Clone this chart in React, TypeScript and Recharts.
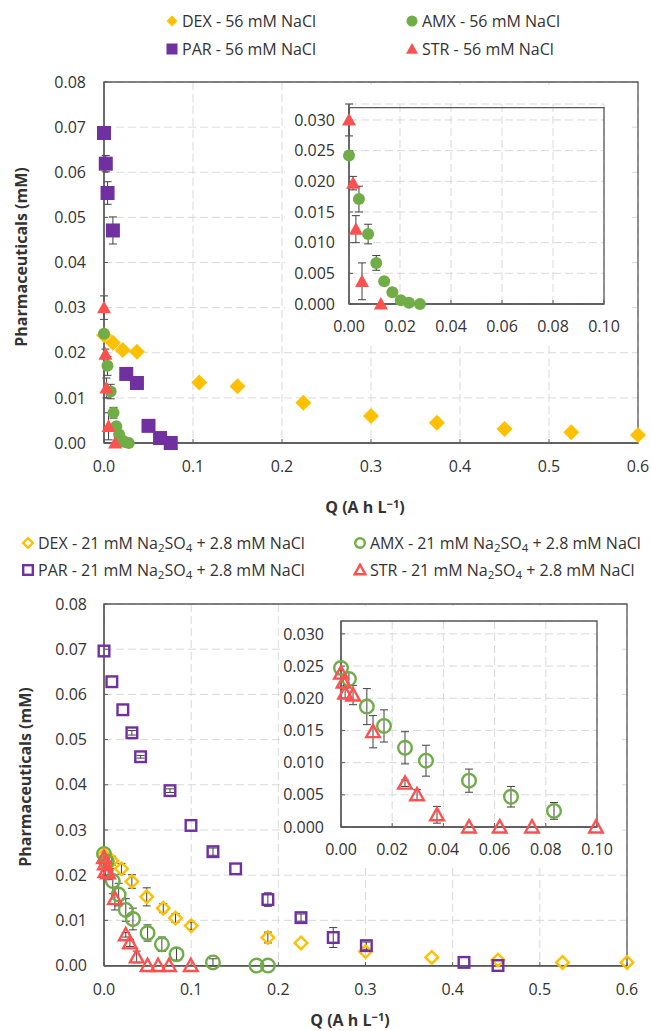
import React from 'react';
import { ScatterChart, Scatter, XAxis, YAxis, CartesianGrid, ErrorBar, ReferenceArea } from 'recharts';

const FONT = '"Open Sans", sans-serif';
const TEXT = '#333333';
const AXIS = '#595959';
const GRID = '#d9d9d9';

const ORANGE = '#FFC000';
const GREEN = '#70AD47';
const PURPLE = '#7030A0';
const RED = '#FF5050';

// [Q (A h L-1), concentration (mM), error]
const DEX_NACL: [number, number, number][] = [
  [0, 0.0239, 0], [0.01, 0.0222, 0], [0.021, 0.0206, 0], [0.037, 0.0202, 0],
  [0.107, 0.0134, 0], [0.15, 0.0126, 0], [0.224, 0.0089, 0], [0.3, 0.006, 0],
  [0.374, 0.0045, 0], [0.45, 0.0031, 0], [0.525, 0.0024, 0], [0.6, 0.0018, 0],
];
const AMX_NACL: [number, number, number][] = [
  [0, 0.0242, 0.0003], [0.0039, 0.0171, 0.0021], [0.0075, 0.0114, 0.0016],
  [0.0107, 0.0067, 0.0012], [0.0138, 0.0037, 0.0005], [0.017, 0.0019, 0.0003],
  [0.0203, 0.0006, 0], [0.0235, 0.0002, 0], [0.0278, 0, 0],
];
const PAR_NACL: [number, number, number][] = [
  [0, 0.0687, 0], [0.002, 0.0619, 0.0018], [0.004, 0.0554, 0.0025], [0.01, 0.0471, 0.003],
  [0.025, 0.0153, 0.0012], [0.037, 0.0133, 0], [0.05, 0.0038, 0], [0.063, 0.0011, 0],
  [0.075, 0, 0],
];
const STR_NACL: [number, number, number][] = [
  [0, 0.03, 0.0026], [0.0016, 0.0197, 0.0011], [0.0027, 0.0122, 0.0022],
  [0.0051, 0.0037, 0.003], [0.0125, 0, 0],
];

const DEX_SO4: [number, number, number][] = [
  [0, 0.0245, 0], [0.009, 0.0232, 0.001], [0.02, 0.0214, 0.0012], [0.032, 0.0186, 0.0015],
  [0.049, 0.0152, 0.002], [0.068, 0.0127, 0.001], [0.082, 0.0105, 0.001], [0.1, 0.0088, 0.0008],
  [0.188, 0.0062, 0.0012], [0.226, 0.005, 0], [0.3, 0.0031, 0], [0.376, 0.0018, 0],
  [0.452, 0.0012, 0], [0.526, 0.0007, 0], [0.6, 0.0007, 0],
];
const AMX_SO4: [number, number, number][] = [
  [0, 0.0247, 0], [0.0031, 0.023, 0.001], [0.0101, 0.0187, 0.0028], [0.0168, 0.0157, 0.0025],
  [0.025, 0.0123, 0.0025], [0.0332, 0.0103, 0.0024], [0.05, 0.0072, 0.0018],
  [0.0664, 0.0047, 0.0016], [0.0832, 0.0025, 0.0013], [0.125, 0.0007, 0.0008],
  [0.175, 0, 0], [0.188, 0, 0],
];
const PAR_SO4: [number, number, number][] = [
  [0, 0.0696, 0], [0.009, 0.0628, 0], [0.0216, 0.0566, 0], [0.032, 0.0515, 0.0005],
  [0.042, 0.0462, 0.0003], [0.0757, 0.0387, 0.0004], [0.0998, 0.031, 0], [0.125, 0.0252, 0.0008],
  [0.151, 0.0214, 0], [0.188, 0.0146, 0.0015], [0.226, 0.0106, 0.0008], [0.263, 0.0062, 0.0022],
  [0.301, 0.0044, 0.0008], [0.413, 0.0007, 0], [0.452, 0, 0],
];
const STR_SO4: [number, number, number][] = [
  [0, 0.0239, 0], [0.001, 0.0225, 0.0006], [0.0016, 0.0208, 0.0008], [0.0047, 0.0205, 0.0015],
  [0.0125, 0.0148, 0.0025], [0.025, 0.0068, 0.0005], [0.0297, 0.005, 0.0008],
  [0.0375, 0.0019, 0.0013], [0.05, 0, 0], [0.062, 0, 0], [0.0746, 0, 0], [0.0996, 0, 0],
];

const MAIN_X_TICKS = [0, 0.1, 0.2, 0.3, 0.4, 0.5, 0.6];
const MAIN_Y_TICKS = [0, 0.01, 0.02, 0.03, 0.04, 0.05, 0.06, 0.07, 0.08];
const INSET_X_TICKS = [0, 0.02, 0.04, 0.06, 0.08, 0.1];
const INSET_Y_TICKS = [0, 0.005, 0.01, 0.015, 0.02, 0.025, 0.03];
const INSET_X_MAX = 0.1;

const rows = (arr: [number, number, number][]) => arr.map(([q, c, err]) => ({ q, c, err }));

type Kind = 'diamond' | 'square' | 'circle' | 'triangle';

function drawMarker(kind: Kind, color: string, size: number, open: boolean, cx: number, cy: number) {
  const sw = open ? 2.4 : 0;
  const h = size / 2 - sw / 2;
  const common = { fill: open ? 'none' : color, stroke: open ? color : 'none', strokeWidth: sw };
  if (kind === 'diamond')
    return <polygon points={`${cx},${cy - h} ${cx + h},${cy} ${cx},${cy + h} ${cx - h},${cy}`} {...common} />;
  if (kind === 'square') return <rect x={cx - h} y={cy - h} width={2 * h} height={2 * h} {...common} />;
  if (kind === 'circle') return <circle cx={cx} cy={cy} r={h} {...common} />;
  return <polygon points={`${cx},${cy - h} ${cx + h},${cy + h * 0.8} ${cx - h},${cy + h * 0.8}`} {...common} />;
}

const shapeFn = (kind: Kind, color: string, size: number, open: boolean) => (p: any) =>
  drawMarker(kind, color, size, open, p.cx, p.cy);

interface SeriesDef {
  name: string;
  data: { q: number; c: number; err: number }[];
  kind: Kind;
  color: string;
  size: number;
  open: boolean;
}

interface PanelProps {
  left: number;
  top: number;
  width: number;
  height: number;
  margin: { top: number; right: number; bottom: number; left: number };
  yAxisWidth: number;
  xDomain: [number, number];
  yDomain: [number, number];
  xTicks: number[];
  yTicks: number[];
  xDigits: number;
  yDigits: number;
  xTickMargin: number;
  yTickMargin: number;
  series: SeriesDef[];
  background?: string;
}

function Panel(p: PanelProps) {
  const tick = { fill: TEXT, fontSize: 16, fontFamily: FONT };
  return (
    <div style={{ position: 'absolute', left: p.left, top: p.top, background: p.background }}>
      <ScatterChart width={p.width} height={p.height} margin={p.margin}>
        <CartesianGrid stroke={GRID} strokeDasharray="8 4" />
        <XAxis
          type="number"
          dataKey="q"
          domain={p.xDomain}
          ticks={p.xTicks}
          tickFormatter={(v: number) => v.toFixed(p.xDigits)}
          height={30}
          tick={tick}
          tickSize={-4}
          tickMargin={p.xTickMargin}
          tickLine={{ stroke: AXIS }}
          axisLine={{ stroke: AXIS, strokeWidth: 1.3 }}
          interval={0}
        />
        <YAxis
          type="number"
          dataKey="c"
          domain={p.yDomain}
          ticks={p.yTicks}
          tickFormatter={(v: number) => v.toFixed(p.yDigits)}
          width={p.yAxisWidth}
          tick={tick}
          tickSize={-4}
          tickMargin={p.yTickMargin}
          tickLine={{ stroke: AXIS }}
          axisLine={{ stroke: AXIS, strokeWidth: 1.3 }}
          interval={0}
        />
        <ReferenceArea
          x1={p.xDomain[0]}
          x2={p.xDomain[1]}
          y1={p.yDomain[0]}
          y2={p.yDomain[1]}
          fill="none"
          fillOpacity={0}
          stroke={AXIS}
          strokeWidth={1.3}
        />
        {p.series.map((s) => (
          <Scatter
            key={s.name}
            name={s.name}
            data={s.data}
            shape={shapeFn(s.kind, s.color, s.size, s.open)}
            isAnimationActive={false}
          >
            <ErrorBar dataKey="err" direction="y" width={4} stroke="#404040" strokeWidth={1} />
          </Scatter>
        ))}
      </ScatterChart>
    </div>
  );
}

function LegendItem({ x, y, kind, color, open, size, children }: any) {
  return (
    <div
      style={{
        position: 'absolute',
        left: x,
        top: y - 12,
        height: 24,
        display: 'flex',
        alignItems: 'center',
        whiteSpace: 'nowrap',
        fontSize: 16,
        color: TEXT,
      }}
    >
      <svg width={14} height={14} style={{ marginRight: 3 }}>
        {drawMarker(kind, color, size, open, 7, 7)}
      </svg>
      <span>{children}</span>
    </div>
  );
}

const subStyle: React.CSSProperties = { fontSize: '0.72em', verticalAlign: '-0.25em', lineHeight: 0 };
const So4Label = ({ drug }: { drug: string }) => (
  <>
    {drug} - 21 mM Na<sub style={subStyle}>2</sub>SO<sub style={subStyle}>4</sub> + 2.8 mM NaCl
  </>
);

const QTitle = () => (
  <>
    Q (A h L<sup style={{ fontSize: '0.7em', verticalAlign: '0.45em', lineHeight: 0 }}>−1</sup>)
  </>
);

const insetOnly = (list: SeriesDef[]) =>
  list
    .filter((s) => s.kind === 'circle' || s.kind === 'triangle')
    .map((s) => ({ ...s, data: s.data.filter((d) => d.q <= INSET_X_MAX) }));

export default function App() {
  const nacl: SeriesDef[] = [
    { name: 'DEX - 56 mM NaCl', data: rows(DEX_NACL), kind: 'diamond', color: ORANGE, size: 16, open: false },
    { name: 'AMX - 56 mM NaCl', data: rows(AMX_NACL), kind: 'circle', color: GREEN, size: 12, open: false },
    { name: 'PAR - 56 mM NaCl', data: rows(PAR_NACL), kind: 'square', color: PURPLE, size: 14, open: false },
    { name: 'STR - 56 mM NaCl', data: rows(STR_NACL), kind: 'triangle', color: RED, size: 14, open: false },
  ];
  const so4: SeriesDef[] = [
    { name: 'DEX - SO4', data: rows(DEX_SO4), kind: 'diamond', color: ORANGE, size: 15, open: true },
    { name: 'AMX - SO4', data: rows(AMX_SO4), kind: 'circle', color: GREEN, size: 16, open: true },
    { name: 'PAR - SO4', data: rows(PAR_SO4), kind: 'square', color: PURPLE, size: 13, open: true },
    { name: 'STR - SO4', data: rows(STR_SO4), kind: 'triangle', color: RED, size: 16, open: true },
  ];

  const titleStyle: React.CSSProperties = {
    position: 'absolute',
    fontWeight: 700,
    fontSize: 16,
    color: TEXT,
    whiteSpace: 'nowrap',
  };

  return (
    <div
      style={{
        position: 'absolute',
        left: 0,
        top: 0,
        width: 651,
        height: 1031,
        background: '#fff',
        fontFamily: FONT,
        overflow: 'hidden',
      }}
    >
      {/* top panel: 56 mM NaCl */}
      <LegendItem x={165} y={21} kind="diamond" color={ORANGE} size={11} open={false}>DEX - 56 mM NaCl</LegendItem>
      <LegendItem x={405} y={21} kind="circle" color={GREEN} size={11} open={false}>AMX - 56 mM NaCl</LegendItem>
      <LegendItem x={165} y={49} kind="square" color={PURPLE} size={11} open={false}>PAR - 56 mM NaCl</LegendItem>
      <LegendItem x={405} y={49} kind="triangle" color={RED} size={12} open={false}>STR - 56 mM NaCl</LegendItem>

      <Panel
        left={0}
        top={0}
        width={651}
        height={520}
        margin={{ top: 82, right: 13, bottom: 47, left: 0 }}
        yAxisWidth={104}
        xDomain={[0, 0.6]}
        yDomain={[0, 0.08]}
        xTicks={MAIN_X_TICKS}
        yTicks={MAIN_Y_TICKS}
        xDigits={1}
        yDigits={2}
        xTickMargin={22}
        yTickMargin={22}
        series={nacl}
      />
      <Panel
        left={285}
        top={85}
        width={345}
        height={258}
        margin={{ top: 19, right: 26, bottom: 9, left: 0 }}
        yAxisWidth={64}
        xDomain={[0, INSET_X_MAX]}
        yDomain={[0, 0.032]}
        xTicks={INSET_X_TICKS}
        yTicks={INSET_Y_TICKS}
        xDigits={2}
        yDigits={3}
        xTickMargin={21}
        yTickMargin={18}
        series={insetOnly(nacl)}
        background="#fff"
      />
      <div style={{ ...titleStyle, left: 21, top: 257, transform: 'translate(-50%, -50%) rotate(-90deg)' }}>
        Pharmaceuticals (mM)
      </div>
      <div style={{ ...titleStyle, left: 365, top: 507, transform: 'translate(-50%, -50%)' }}>
        <QTitle />
      </div>

      {/* bottom panel: 21 mM Na2SO4 + 2.8 mM NaCl */}
      <LegendItem x={21} y={543} kind="diamond" color={ORANGE} size={12} open>
        <So4Label drug="DEX" />
      </LegendItem>
      <LegendItem x={353} y={543} kind="circle" color={GREEN} size={12} open>
        <So4Label drug="AMX" />
      </LegendItem>
      <LegendItem x={21} y={570} kind="square" color={PURPLE} size={12} open>
        <So4Label drug="PAR" />
      </LegendItem>
      <LegendItem x={353} y={570} kind="triangle" color={RED} size={13} open>
        <So4Label drug="STR" />
      </LegendItem>

      <Panel
        left={0}
        top={520}
        width={651}
        height={511}
        margin={{ top: 84, right: 24, bottom: 35, left: 0 }}
        yAxisWidth={104}
        xDomain={[0, 0.6]}
        yDomain={[0, 0.08]}
        xTicks={MAIN_X_TICKS}
        yTicks={MAIN_Y_TICKS}
        xDigits={1}
        yDigits={2}
        xTickMargin={22}
        yTickMargin={21}
        series={so4}
      />
      <Panel
        left={280}
        top={606}
        width={342}
        height={262}
        margin={{ top: 15, right: 25, bottom: 11, left: 0 }}
        yAxisWidth={61}
        xDomain={[0, INSET_X_MAX]}
        yDomain={[0, 0.032]}
        xTicks={INSET_X_TICKS}
        yTicks={INSET_Y_TICKS}
        xDigits={2}
        yDigits={3}
        xTickMargin={21}
        yTickMargin={21}
        series={insetOnly(so4)}
        background="#fff"
      />
      <div style={{ ...titleStyle, left: 25, top: 777, transform: 'translate(-50%, -50%) rotate(-90deg)' }}>
        Pharmaceuticals (mM)
      </div>
      <div style={{ ...titleStyle, left: 350, top: 1020, transform: 'translate(-50%, -50%)' }}>
        <QTitle />
      </div>
    </div>
  );
}
